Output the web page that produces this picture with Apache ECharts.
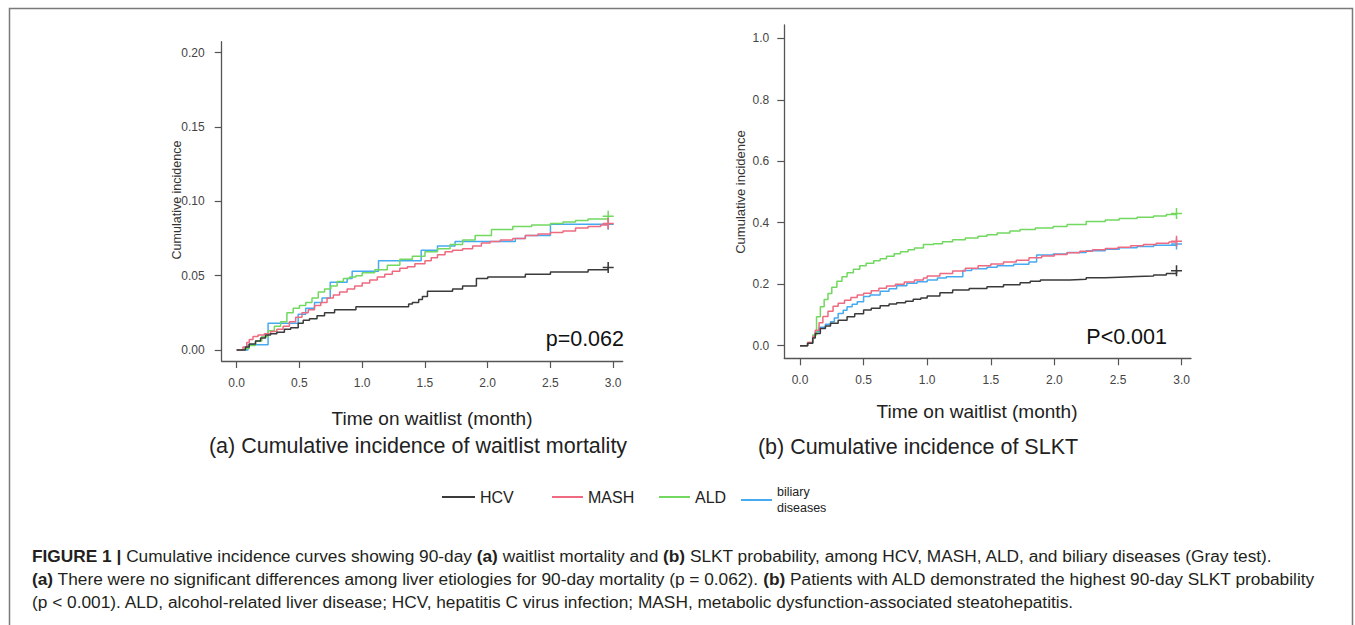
<!DOCTYPE html>
<html>
<head>
<meta charset="utf-8">
<style>
  html, body { margin: 0; padding: 0; background: #ffffff; }
  #chart { width: 1355px; height: 625px; }
</style>
<script src="https://cdn.jsdelivr.net/npm/echarts@6/dist/echarts.min.js"></script>
</head>
<body>
<div id="chart"></div>
<script>
// ---------- Data ----------
const seriesNames = ['HCV', 'MASH', 'ALD', 'biliary diseases'];

// Panel (a): cumulative incidence of waitlist mortality
const hcvA_x  = [0, 0.07, 0.1, 0.15, 0.19, 0.23, 0.27, 0.32, 0.38, 0.43, 0.49, 0.53, 0.58, 0.64, 0.7, 0.78, 0.95, 1.37, 1.40, 1.45, 1.48, 1.52, 1.72, 1.8, 1.91, 2.0, 2.3, 2.5, 2.8, 2.96];
const hcvA_y  = [0, 0.002, 0.004, 0.006, 0.008, 0.010, 0.011, 0.012, 0.014, 0.015, 0.018, 0.020, 0.021, 0.023, 0.025, 0.027, 0.029, 0.031, 0.032, 0.034, 0.036, 0.0395, 0.041, 0.043, 0.048, 0.049, 0.051, 0.0525, 0.054, 0.0555];
const mashA_x = [0, 0.05, 0.08, 0.1, 0.13, 0.17, 0.22, 0.27, 0.32, 0.37, 0.42, 0.47, 0.52, 0.57, 0.62, 0.67, 0.72, 0.77, 0.82, 0.88, 0.94, 1.0, 1.06, 1.12, 1.18, 1.24, 1.3, 1.36, 1.42, 1.5, 1.55, 1.6, 1.66, 1.72, 1.8, 1.88, 1.95, 2.02, 2.1, 2.2, 2.3, 2.4, 2.5, 2.6, 2.7, 2.8, 2.9, 2.96];
const mashA_y = [0, 0.002, 0.005, 0.007, 0.009, 0.010, 0.011, 0.0125, 0.014, 0.016, 0.019, 0.022, 0.025, 0.027, 0.030, 0.032, 0.035, 0.037, 0.039, 0.041, 0.043, 0.045, 0.047, 0.049, 0.051, 0.053, 0.055, 0.056, 0.058, 0.060, 0.062, 0.064, 0.066, 0.067, 0.068, 0.070, 0.072, 0.073, 0.074, 0.075, 0.077, 0.078, 0.079, 0.080, 0.082, 0.083, 0.084, 0.085];
const aldA_x  = [0, 0.06, 0.1, 0.15, 0.2, 0.25, 0.3, 0.35, 0.4, 0.45, 0.5, 0.55, 0.6, 0.65, 0.7, 0.75, 0.8, 0.85, 0.9, 0.95, 1.0, 1.1, 1.2, 1.3, 1.4, 1.5, 1.6, 1.7, 1.8, 1.9, 2.03, 2.2, 2.35, 2.5, 2.6, 2.7, 2.8, 2.96];
const aldA_y  = [0, 0.001, 0.003, 0.006, 0.009, 0.013, 0.016, 0.019, 0.025, 0.028, 0.030, 0.032, 0.035, 0.039, 0.041, 0.043, 0.046, 0.048, 0.049, 0.050, 0.052, 0.054, 0.057, 0.061, 0.063, 0.066, 0.068, 0.071, 0.074, 0.077, 0.081, 0.083, 0.084, 0.085, 0.086, 0.087, 0.088, 0.090];
const bilA_x  = [0, 0.09, 0.25, 0.49, 0.55, 0.62, 0.68, 0.745, 0.88, 0.92, 1.13, 1.47, 1.6, 1.74, 2.22, 2.3, 2.5, 2.96];
const bilA_y  = [0, 0.0035, 0.018, 0.024, 0.028, 0.032, 0.035, 0.0455, 0.048, 0.053, 0.060, 0.067, 0.070, 0.073, 0.075, 0.077, 0.0845, 0.0845];

// Panel (b): cumulative incidence of SLKT
const hcvB_x  = [0, 0.06, 0.1, 0.12, 0.16, 0.2, 0.24, 0.3, 0.37, 0.43, 0.5, 0.56, 0.63, 0.7, 0.76, 0.83, 0.89, 0.95, 1.0, 1.1, 1.2, 1.33, 1.47, 1.6, 1.73, 1.81, 1.89, 2.12, 2.25, 2.4, 2.51, 2.65, 2.78, 2.88, 2.96];
const hcvB_y  = [0, 0.008, 0.025, 0.04, 0.056, 0.064, 0.073, 0.083, 0.094, 0.104, 0.116, 0.122, 0.13, 0.136, 0.14, 0.145, 0.151, 0.155, 0.162, 0.172, 0.181, 0.186, 0.192, 0.198, 0.205, 0.21, 0.214, 0.216, 0.221, 0.223, 0.225, 0.227, 0.23, 0.235, 0.244];
const mashB_x = [0, 0.06, 0.1, 0.12, 0.15, 0.18, 0.22, 0.26, 0.3, 0.35, 0.4, 0.45, 0.5, 0.56, 0.62, 0.68, 0.75, 0.82, 0.9, 0.97, 1.0, 1.1, 1.2, 1.3, 1.4, 1.5, 1.6, 1.7, 1.8, 1.9, 2.0, 2.1, 2.2, 2.3, 2.4, 2.5, 2.6, 2.7, 2.8, 2.9, 2.96];
const mashB_y = [0, 0.01, 0.03, 0.05, 0.075, 0.095, 0.112, 0.128, 0.138, 0.148, 0.157, 0.165, 0.171, 0.179, 0.187, 0.194, 0.2, 0.207, 0.214, 0.22, 0.227, 0.235, 0.243, 0.252, 0.26, 0.266, 0.272, 0.278, 0.286, 0.292, 0.297, 0.302, 0.307, 0.312, 0.316, 0.32, 0.325, 0.329, 0.333, 0.337, 0.34];
const aldB_x  = [0, 0.06, 0.1, 0.13, 0.16, 0.19, 0.22, 0.25, 0.29, 0.33, 0.37, 0.42, 0.47, 0.52, 0.58, 0.63, 0.68, 0.74, 0.79, 0.85, 0.9, 0.97, 1.05, 1.12, 1.2, 1.3, 1.4, 1.47, 1.55, 1.65, 1.73, 1.85, 1.99, 2.1, 2.25, 2.4, 2.51, 2.65, 2.78, 2.88, 2.96];
const aldB_y  = [0, 0.01, 0.035, 0.094, 0.127, 0.15, 0.17, 0.19, 0.21, 0.224, 0.237, 0.249, 0.26, 0.268, 0.276, 0.283, 0.291, 0.299, 0.306, 0.312, 0.318, 0.329, 0.332, 0.338, 0.345, 0.35, 0.356, 0.361, 0.367, 0.373, 0.378, 0.383, 0.388, 0.394, 0.404, 0.409, 0.414, 0.418, 0.422, 0.427, 0.43];
const bilB_x  = [0, 0.06, 0.1, 0.12, 0.15, 0.2, 0.24, 0.27, 0.3, 0.34, 0.37, 0.41, 0.45, 0.5, 0.55, 0.63, 0.7, 0.76, 0.84, 0.92, 1.0, 1.08, 1.15, 1.28, 1.35, 1.47, 1.55, 1.68, 1.8, 1.86, 1.99, 2.1, 2.25, 2.4, 2.51, 2.65, 2.78, 2.96];
const bilB_y  = [0, 0.008, 0.03, 0.045, 0.06, 0.07, 0.078, 0.09, 0.105, 0.115, 0.127, 0.135, 0.143, 0.16, 0.165, 0.177, 0.185, 0.195, 0.203, 0.208, 0.214, 0.22, 0.224, 0.245, 0.25, 0.255, 0.26, 0.265, 0.272, 0.295, 0.298, 0.303, 0.309, 0.314, 0.319, 0.323, 0.327, 0.331];

// Tick labels
const xTicks  = [0, 0.5, 1.0, 1.5, 2.0, 2.5, 3.0];
const yTicksA = [0, 0.05, 0.10, 0.15, 0.20];
const yTicksB = [0, 0.2, 0.4, 0.6, 0.8, 1.0];

// Text
const pTextA = 'p=0.062';
const pTextB = 'P<0.001';
const xTitle = 'Time on waitlist (month)';
const yTitle = 'Cumulative incidence';
const subTitleA = '(a) Cumulative incidence of waitlist mortality';
const subTitleB = '(b) Cumulative incidence of SLKT';
const captionLines = [
  '{b|FIGURE 1 |} Cumulative incidence curves showing 90-day {b|(a)} waitlist mortality and {b|(b)} SLKT probability, among HCV, MASH, ALD, and biliary diseases (Gray test).',
  '{b|(a)} There were no significant differences among liver etiologies for 90-day mortality (p = 0.062). {b|(b)} Patients with ALD demonstrated the highest 90-day SLKT probability',
  '(p < 0.001). ALD, alcohol-related liver disease; HCV, hepatitis C virus infection; MASH, metabolic dysfunction-associated steatohepatitis.'
];

// ---------- Styling ----------
const colors = ['#3a3a3a', '#EE6A80', '#72D860', '#45AAF0'];
const axisColor = '#555555';
const labelColor = '#444444';
const FONT = '"Liberation Sans", Arial, sans-serif';
const CROSS = 'path://M0,4.3H10V5.7H0Z M4.3,0H5.7V10H4.3Z';

function makeData(xs, ys) {
  const d = xs.map((x, i) => [x, ys[i]]);
  const last = d[d.length - 1];
  d[d.length - 1] = { value: last, symbol: CROSS, symbolSize: 11 };
  return d;
}

function lineSeries(name, idx, xs, ys, gridIdx) {
  return {
    name: name,
    type: 'line',
    step: 'end',
    xAxisIndex: gridIdx,
    yAxisIndex: gridIdx,
    data: makeData(xs, ys),
    symbol: 'none',
    showSymbol: true,
    showAllSymbol: true,
    color: colors[idx],
    itemStyle: { color: colors[idx] },
    lineStyle: { color: colors[idx], width: 1.5 },
    emphasis: { disabled: true },
    silent: true,
    z: 10 - idx
  };
}

function xAxisOf(gridIdx, min, max) {
  return {
    gridIndex: gridIdx, type: 'value', min: min, max: max,
    axisLine: { show: true, onZero: false, lineStyle: { color: axisColor, width: 1.3 } },
    axisTick: { show: true, length: 7, customValues: xTicks, lineStyle: { color: axisColor, width: 1.2 } },
    axisLabel: { customValues: xTicks, formatter: v => v.toFixed(1), margin: 16, color: labelColor, fontSize: 12, fontFamily: FONT },
    splitLine: { show: false }
  };
}
function yAxisOf(gridIdx, min, max, ticks, dec, margin) {
  return {
    gridIndex: gridIdx, type: 'value', min: min, max: max,
    axisLine: { show: true, onZero: false, lineStyle: { color: axisColor, width: 1.3 } },
    axisTick: { show: true, length: 7, customValues: ticks, lineStyle: { color: axisColor, width: 1.2 } },
    axisLabel: { customValues: ticks, formatter: v => v.toFixed(dec), margin: margin, color: labelColor, fontSize: 12, fontFamily: FONT },
    splitLine: { show: false }
  };
}

function legendOf(name, left, top, itemWidth, rich) {
  return {
    data: [name], left: left, top: top, orient: 'horizontal',
    icon: 'rect', itemWidth: itemWidth, itemHeight: 2, itemGap: 0,
    selectedMode: false,
    textStyle: rich ? {
      fontFamily: FONT, color: '#222', fontSize: 12.5, lineHeight: 16
    } : { fontFamily: FONT, color: '#222', fontSize: 16 },
    formatter: rich ? () => 'biliary\ndiseases' : undefined
  };
}

const chart = echarts.init(document.getElementById('chart'), null, { renderer: 'svg', width: 1355, height: 625 });

const option = {
  animation: false,
  backgroundColor: '#ffffff',
  textStyle: { fontFamily: FONT },
  grid: [
    { left: 221.7, top: 41.7, width: 401, height: 319.3, containLabel: false },
    { left: 784.3, top: 25, width: 406.7, height: 333.3, containLabel: false }
  ],
  xAxis: [xAxisOf(0, -0.1195, 3.0757), xAxisOf(1, -0.1234, 3.0739)],
  yAxis: [yAxisOf(0, -0.0074, 0.2073, yTicksA, 2, 17), yAxisOf(1, -0.041, 1.0433, yTicksB, 1, 15)],
  legend: [
    legendOf(seriesNames[0], 437, 484, 33, false),
    legendOf(seriesNames[1], 547, 484, 31, false),
    legendOf(seriesNames[2], 654, 484, 31, false),
    legendOf(seriesNames[3], 736, 479, 31, true)
  ],
  series: [
    lineSeries(seriesNames[0], 0, hcvA_x, hcvA_y, 0),
    lineSeries(seriesNames[1], 1, mashA_x, mashA_y, 0),
    lineSeries(seriesNames[2], 2, aldA_x, aldA_y, 0),
    lineSeries(seriesNames[3], 3, bilA_x, bilA_y, 0),
    lineSeries(seriesNames[0], 0, hcvB_x, hcvB_y, 1),
    lineSeries(seriesNames[1], 1, mashB_x, mashB_y, 1),
    lineSeries(seriesNames[2], 2, aldB_x, aldB_y, 1),
    lineSeries(seriesNames[3], 3, bilB_x, bilB_y, 1)
  ],
  graphic: [
    { type: 'rect', shape: { x: 9.5, y: 8.5, width: 1343, height: 640 }, style: { fill: 'none', stroke: '#7a7a7a', lineWidth: 1.5 }, silent: true, z: 0 },
    { type: 'text', x: 177, y: 200, rotation: Math.PI / 2, style: { text: yTitle, fontSize: 12.5, fontFamily: FONT, fill: '#333', align: 'center', verticalAlign: 'middle' } },
    { type: 'text', x: 740, y: 192, rotation: Math.PI / 2, style: { text: yTitle, fontSize: 13, fontFamily: FONT, fill: '#333', align: 'center', verticalAlign: 'middle' } },
    { type: 'text', x: 432, y: 418, style: { text: xTitle, fontSize: 19, fontFamily: FONT, fill: '#222', align: 'center', verticalAlign: 'middle' } },
    { type: 'text', x: 977, y: 411, style: { text: xTitle, fontSize: 19, fontFamily: FONT, fill: '#222', align: 'center', verticalAlign: 'middle' } },
    { type: 'text', x: 418, y: 446, style: { text: subTitleA, fontSize: 21.5, fontFamily: FONT, fill: '#222', align: 'center', verticalAlign: 'middle' } },
    { type: 'text', x: 918, y: 447, style: { text: subTitleB, fontSize: 21.5, fontFamily: FONT, fill: '#222', align: 'center', verticalAlign: 'middle' } },
    { type: 'text', x: 624, y: 339, style: { text: pTextA, fontSize: 21.5, fontFamily: FONT, fill: '#111', align: 'right', verticalAlign: 'middle' } },
    { type: 'text', x: 1167, y: 337, style: { text: pTextB, fontSize: 21.5, fontFamily: FONT, fill: '#111', align: 'right', verticalAlign: 'middle' } }
  ].concat(captionLines.map((t, i) => ({
    type: 'text', x: 32, y: [556, 579, 602][i],
    style: {
      text: t, fontSize: 17.3, fontFamily: FONT, fill: '#231f20', align: 'left', verticalAlign: 'middle',
      rich: { b: { fontWeight: 'bold', fontSize: 17.3, fontFamily: FONT, fill: '#231f20' } }
    }
  })))
};

chart.setOption(option);
</script>
</body>
</html>
